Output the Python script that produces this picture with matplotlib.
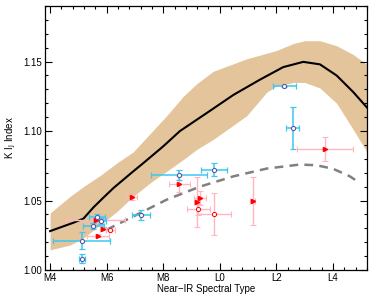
import matplotlib
matplotlib.use("Agg")
import matplotlib.pyplot as plt
from matplotlib.ticker import MultipleLocator
import numpy as np

plt.rcParams["font.family"] = ["Liberation Sans", "DejaVu Sans"]

# ── model curve (black) and its spread (tan band) ───────────────────────────
model_t = [4.0, 4.82, 5.18, 5.53, 5.88, 6.24, 6.59, 6.94, 7.3, 7.65, 8.0,
           8.59, 9.54, 10.48, 11.42, 12.24, 12.95, 13.54, 14.13, 14.72, 15.2]
model_v = [1.028, 1.034, 1.037, 1.045, 1.052, 1.059, 1.065, 1.071, 1.077,
           1.083, 1.089, 1.100, 1.113, 1.126, 1.137, 1.146, 1.1498, 1.148,
           1.140, 1.128, 1.117]

band_t = [4.0, 4.71, 5.18, 5.77, 6.36, 6.94, 7.53, 8.12, 8.71, 9.18, 9.77,
          10.95, 11.66, 12.01, 12.6, 13.0, 13.54, 14.13, 14.72, 15.2]
band_lo = [1.0145, 1.018, 1.023, 1.0325, 1.042, 1.053, 1.0626, 1.071,
           1.0795, 1.0867, 1.094, 1.111, 1.128, 1.1325, 1.135, 1.135, 1.131,
           1.120, 1.101, 1.085]
band_hi = [1.041, 1.053, 1.060, 1.068, 1.077, 1.085, 1.098, 1.111, 1.125,
           1.134, 1.143, 1.152, 1.156, 1.158, 1.163, 1.165, 1.165, 1.1614,
           1.155, 1.148]

# ── second model (grey dashed) ──────────────────────────────────────────────
dash_t = [6.0, 6.94, 8.12, 9.3, 10.48, 11.66, 12.83, 13.42, 14.01, 14.6, 14.95]
dash_v = [1.029, 1.0385, 1.0506, 1.060, 1.0674, 1.073, 1.0759, 1.0754,
          1.0728, 1.0674, 1.0626]

# ── observed objects, set 1 (cyan bars, open circles) ──────────────────────
c_t = [5.12, 5.12, 5.53, 5.65, 5.79, 7.22, 8.55, 9.80, 12.28, 12.57]
c_v = [1.0212, 1.0082, 1.0318, 1.0378, 1.0354, 1.0397, 1.0682, 1.0723,
       1.1325, 1.1024]
c_xe = [1.0, 0.1, 0.36, 0.28, 0.2, 0.31, 1.0, 0.45, 0.4, 0.24]
c_ye = [0.006, 0.0035, 0.002, 0.0025, 0.002, 0.0036, 0.0036, 0.0048,
        0.001, 0.015]

# ── observed objects, set 2 (pink bars, red triangles / circles) ───────────
r_t = [5.61, 5.71, 5.88, 6.12, 6.89, 8.57, 9.18, 9.30, 9.24, 11.16, 13.72]
r_v = [1.036, 1.0246, 1.0296, 1.0289, 1.0523, 1.0619, 1.0486, 1.0518,
       1.0438, 1.0494, 1.0872]
r_xe = [1.03, 0.39, 0.1, 0.16, 0.18, 0.38, 0.1, 0.2, 0.4, 0.1, 1.0]
r_ye = [0.002, 0.001, 0.001, 0.001, 0.002, 0.006, 0.018, 0.005, 0.004,
        0.0172, 0.0088]
r_mk = [">", ">", ">", "o", ">", ">", ">", ">", "o", ">", ">"]
# open circles with large bars
r2_t = [9.81]
r2_v = [1.0402]
r2_xe = [0.6]
r2_ye = [0.015]

tick_pos = [4, 6, 8, 10, 12, 14]
tick_lab = ["M4", "M6", "M8", "L0", "L2", "L4"]

fig = plt.figure(figsize=(3.74, 3.0), dpi=100)
ax = fig.add_axes([0.1203, 0.1, 0.8607, 0.88])

ax.fill_between(band_t, band_lo, band_hi, color="#e3c49b", lw=0, zorder=1)
ax.plot(model_t, model_v, color="black", lw=1.5, zorder=3)
ax.plot(dash_t, dash_v, color="#808080", lw=1.8, ls=(0, (3.5, 2.5)), zorder=2)

for t, v, xe, ye, mk in zip(r_t, r_v, r_xe, r_ye, r_mk):
    ax.errorbar(t, v, xerr=xe, yerr=ye, fmt="none", ecolor="#ffb6c1",
                elinewidth=1.0, capsize=2, capthick=0.8, zorder=4)
    if mk == "o":
        ax.plot(t, v, "o", ms=3, mfc="white", mec="red", mew=0.7, zorder=6)
    else:
        ax.plot(t, v, ">", ms=3, color="red", zorder=6)
for t, v, xe, ye in zip(r2_t, r2_v, r2_xe, r2_ye):
    ax.errorbar(t, v, xerr=xe, yerr=ye, fmt="none", ecolor="#ffb6c1",
                elinewidth=1.0, capsize=2, capthick=0.8, zorder=4)
    ax.plot(t, v, "o", ms=3, mfc="white", mec="red", mew=0.7, zorder=6)

for t, v, xe, ye in zip(c_t, c_v, c_xe, c_ye):
    ax.errorbar(t, v, xerr=xe, yerr=ye, fmt="none", ecolor="#3cc8f0",
                elinewidth=1.1, capsize=2, capthick=0.9, zorder=5)
    ax.plot(t, v, "o", ms=3, mfc="white", mec="#5a5aa8", mew=0.8, zorder=7)

ax.set_xlim(3.82, 15.2)
ax.set_ylim(1.0, 1.19)
ax.set_xticks(tick_pos)
ax.set_xticklabels(tick_lab)
ax.set_yticks([1.00, 1.05, 1.10, 1.15])
ax.set_yticklabels(["1.00", "1.05", "1.10", "1.15"])
ax.xaxis.set_minor_locator(MultipleLocator(0.4))
ax.yaxis.set_minor_locator(MultipleLocator(0.01))
ax.tick_params(which="both", direction="in", top=True, right=True,
               labelsize=7, width=0.8, pad=2)
ax.tick_params(which="major", length=5)
ax.tick_params(which="minor", length=2.5)
for s in ax.spines.values():
    s.set_linewidth(0.9)

ax.set_xlabel("Near\u2212IR Spectral Type", fontsize=7, labelpad=1)
ax.set_ylabel("K I$_{\\rm J}$ Index", fontsize=7, labelpad=4)

fig.savefig("out.png", dpi=100)
